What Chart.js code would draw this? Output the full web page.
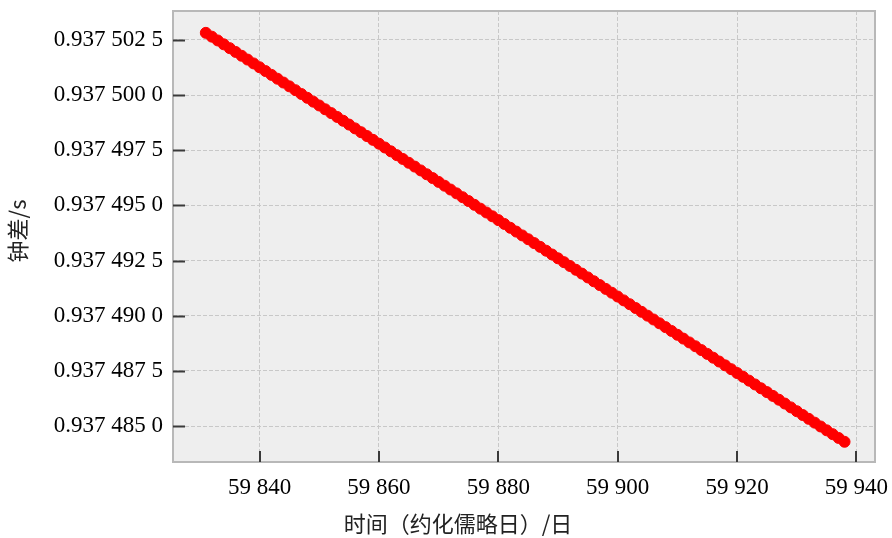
<!DOCTYPE html>
<html>
<head>
<meta charset="utf-8">
<script src="https://cdn.jsdelivr.net/npm/chart.js@4/dist/chart.umd.min.js"></script>
<style>
  body { margin: 0; background: #fff; }
  #wrap { width: 892px; height: 538px; }
</style>
</head>
<body>
<div id="wrap"><canvas id="clock" width="892" height="538"></canvas></div>
<script>
// MJD of each daily sample
var mjd = [
  59831, 59832, 59833, 59834, 59835, 59836, 59837, 59838, 59839, 59840,
  59841, 59842, 59843, 59844, 59845, 59846, 59847, 59848, 59849, 59850,
  59851, 59852, 59853, 59854, 59855, 59856, 59857, 59858, 59859, 59860,
  59861, 59862, 59863, 59864, 59865, 59866, 59867, 59868, 59869, 59870,
  59871, 59872, 59873, 59874, 59875, 59876, 59877, 59878, 59879, 59880,
  59881, 59882, 59883, 59884, 59885, 59886, 59887, 59888, 59889, 59890,
  59891, 59892, 59893, 59894, 59895, 59896, 59897, 59898, 59899, 59900,
  59901, 59902, 59903, 59904, 59905, 59906, 59907, 59908, 59909, 59910,
  59911, 59912, 59913, 59914, 59915, 59916, 59917, 59918, 59919, 59920,
  59921, 59922, 59923, 59924, 59925, 59926, 59927, 59928, 59929, 59930,
  59931, 59932, 59933, 59934, 59935, 59936, 59937, 59938
];

// clock offset in seconds
var clockDiff = [
  0.937502820, 0.937502647, 0.937502474, 0.937502300, 0.937502127, 0.937501954, 0.937501781, 0.937501608, 0.937501434, 0.937501261,
  0.937501088, 0.937500915, 0.937500741, 0.937500568, 0.937500395, 0.937500222, 0.937500049, 0.937499875, 0.937499702, 0.937499529,
  0.937499356, 0.937499183, 0.937499009, 0.937498836, 0.937498663, 0.937498490, 0.937498317, 0.937498143, 0.937497970, 0.937497797,
  0.937497624, 0.937497450, 0.937497277, 0.937497104, 0.937496931, 0.937496758, 0.937496584, 0.937496411, 0.937496238, 0.937496065,
  0.937495892, 0.937495718, 0.937495545, 0.937495372, 0.937495199, 0.937495026, 0.937494852, 0.937494679, 0.937494506, 0.937494333,
  0.937494160, 0.937493986, 0.937493813, 0.937493640, 0.937493467, 0.937493293, 0.937493120, 0.937492947, 0.937492774, 0.937492601,
  0.937492427, 0.937492254, 0.937492081, 0.937491908, 0.937491735, 0.937491561, 0.937491388, 0.937491215, 0.937491042, 0.937490869,
  0.937490695, 0.937490522, 0.937490349, 0.937490176, 0.937490002, 0.937489829, 0.937489656, 0.937489483, 0.937489310, 0.937489136,
  0.937488963, 0.937488790, 0.937488617, 0.937488444, 0.937488270, 0.937488097, 0.937487924, 0.937487751, 0.937487578, 0.937487404,
  0.937487231, 0.937487058, 0.937486885, 0.937486711, 0.937486538, 0.937486365, 0.937486192, 0.937486019, 0.937485845, 0.937485672,
  0.937485499, 0.937485326, 0.937485153, 0.937484979, 0.937484806, 0.937484633, 0.937484460, 0.937484287
];

var xTicks = [59840, 59860, 59880, 59900, 59920, 59940];
var xTickLabels = ['59 840', '59 860', '59 880', '59 900', '59 920', '59 940'];
var yTicks = [0.9374850, 0.9374875, 0.9374900, 0.9374925, 0.9374950, 0.9374975, 0.9375000, 0.9375025];
var yTickLabels = ['0.937 485 0', '0.937 487 5', '0.937 490 0', '0.937 492 5',
                   '0.937 495 0', '0.937 497 5', '0.937 500 0', '0.937 502 5'];

var xTitle = '时间（约化儒略日）/日';
var yTitle = '钟差/s';

var points = mjd.map(function (d, i) { return { x: d, y: clockDiff[i] }; });

var serif = '"Liberation Serif", "Times New Roman", serif';
var cjk = '"Noto Sans CJK SC", "Noto Sans", sans-serif';

// grey plot panel, frame, inward tick marks and axis titles
var panel = {
  id: 'panel',
  beforeDraw: function (chart) {
    var a = chart.chartArea, ctx = chart.ctx;
    ctx.save();
    ctx.fillStyle = '#eeeeee';
    ctx.fillRect(a.left, a.top, a.right - a.left, a.bottom - a.top);
    ctx.restore();
  },
  afterDraw: function (chart) {
    var a = chart.chartArea, ctx = chart.ctx;
    var xs = chart.scales.x, ys = chart.scales.y;
    ctx.save();
    ctx.strokeStyle = '#b8b8b8';
    ctx.lineWidth = 2;
    ctx.strokeRect(a.left, a.top, a.right - a.left, a.bottom - a.top);

    ctx.strokeStyle = '#3a3a3a';
    ctx.lineWidth = 2;
    ctx.beginPath();
    yTicks.forEach(function (v) {
      var py = Math.round(ys.getPixelForValue(v)) + 0.5;
      ctx.moveTo(a.left, py);
      ctx.lineTo(a.left + 12, py);
    });
    xTicks.forEach(function (v) {
      var px = Math.round(xs.getPixelForValue(v));
      ctx.moveTo(px, a.bottom);
      ctx.lineTo(px, a.bottom - 11);
    });
    ctx.stroke();

    ctx.fillStyle = '#222';
    ctx.font = '22px ' + cjk;
    ctx.textAlign = 'center';
    ctx.textBaseline = 'middle';
    ctx.fillText(xTitle, 458, 524);
    ctx.translate(18, 231);
    ctx.rotate(-Math.PI / 2);
    ctx.fillText(yTitle, 0, 0);
    ctx.restore();
  }
};

new Chart(document.getElementById('clock'), {
  type: 'scatter',
  data: {
    datasets: [{
      data: points,
      backgroundColor: '#ff0000',
      borderColor: '#ff0000',
      borderWidth: 1,
      pointRadius: 5.5,
      showLine: false
    }]
  },
  options: {
    responsive: false,
    animation: false,
    devicePixelRatio: 1,
    layout: { padding: { top: 11, right: 17, left: 0, bottom: 0 } },
    plugins: { legend: { display: false }, tooltip: { enabled: false } },
    scales: {
      x: {
        type: 'linear',
        min: 59825.5,
        max: 59943.1,
        afterBuildTicks: function (s) { s.ticks = xTicks.map(function (v) { return { value: v }; }); },
        afterFit: function (s) { s.height = 76; s.paddingLeft = 0; s.paddingRight = 0; },
        grid: { color: '#c8c8c8', lineWidth: 1, drawTicks: false },
        border: { display: false, dash: [4, 2] },
        ticks: {
          autoSkip: false,
          maxRotation: 0,
          padding: 12,
          color: '#000',
          font: { family: serif, size: 23 },
          callback: function (v, i) { return xTickLabels[i]; }
        }
      },
      y: {
        type: 'linear',
        min: 0.93748337,
        max: 0.93750381,
        afterBuildTicks: function (s) { s.ticks = yTicks.map(function (v) { return { value: v }; }); },
        afterFit: function (s) { s.width = 173; s.paddingTop = 0; s.paddingBottom = 0; },
        grid: { color: '#c8c8c8', lineWidth: 1, drawTicks: false },
        border: { display: false, dash: [4, 2] },
        ticks: {
          padding: 10,
          color: '#000',
          font: { family: serif, size: 23 },
          callback: function (v, i) { return yTickLabels[i]; }
        }
      }
    }
  },
  plugins: [panel]
});
</script>
</body>
</html>
